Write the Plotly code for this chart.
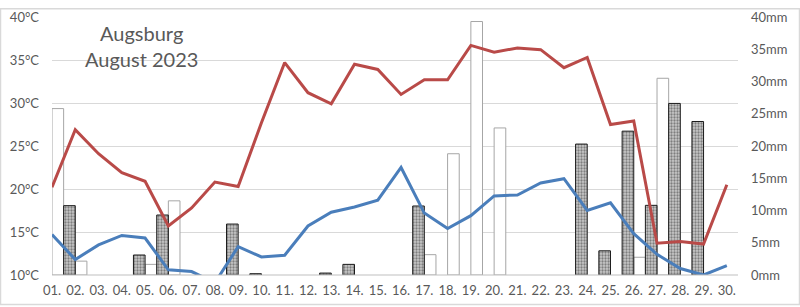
import plotly.graph_objects as go

days = list(range(1, 31))
day_labels = [f"{d:02d}." for d in days]

# daily max / min temperature (°C)
t_max = [20.2, 26.9, 24.1, 21.9, 20.9, 15.7, 17.8, 20.8, 20.3, 27.7,
         34.7, 31.2, 29.9, 34.5, 33.9, 31.0, 32.7, 32.7, 36.7, 35.9,
         36.4, 36.2, 34.1, 35.3, 27.5, 27.9, 13.7, 13.9, 13.6, 20.5]
t_min = [14.7, 11.8, 13.5, 14.6, 14.3, 10.6, 10.4, 9.1, 13.3, 12.1,
         12.3, 15.7, 17.3, 17.9, 18.7, 22.5, 17.2, 15.4, 16.9, 19.2,
         19.3, 20.7, 21.2, 17.5, 18.4, 14.8, 12.4, 10.75, 10.0, 11.1]
# precipitation (mm), two series
rain_dark = [0, 10.75, 0, 0, 3.1, 9.3, 0, 0, 7.9, 0.2,
             0, 0, 0.3, 1.65, 0, 0, 10.7, 0, 0, 0,
             0, 0, 0, 20.3, 3.75, 22.3, 10.8, 26.6, 23.8, 0]
rain_light = [25.8, 2.15, 0, 0, 1.65, 11.5, 0, 0, 0, 0,
              0, 0, 0, 0, 0, 0, 3.15, 18.8, 39.3, 22.8,
              0, 0, 0, 0, 0, 2.75, 30.5, 0, 0, 0]

temp_ticks = [10, 15, 20, 25, 30, 35, 40]
rain_ticks = [0, 5, 10, 15, 20, 25, 30, 35, 40]

font_fam = "Lato, 'Open Sans', sans-serif"
grey = "#595959"


def nz(vals):
    return [v if v > 0 else None for v in vals]


fig = go.Figure()
fig.add_trace(go.Bar(x=days, y=nz(rain_light), width=0.5, offset=0, yaxis="y",
                     marker=dict(color="white", line=dict(color="#a6a6a6", width=1)),
                     showlegend=False))
fig.add_trace(go.Bar(x=days, y=nz(rain_dark), width=0.5, offset=-0.5, yaxis="y",
                     marker=dict(color="#c8c8c8",
                                 line=dict(color="#1a1a1a", width=1),
                                 pattern=dict(shape=".", fgcolor="#333333", size=3, solidity=0.45)),
                     showlegend=False))
fig.add_trace(go.Scatter(x=days, y=t_max, mode="lines", yaxis="y2",
                         line=dict(color="#b94a48", width=3), showlegend=False))
fig.add_trace(go.Scatter(x=days, y=t_min, mode="lines", yaxis="y2",
                         line=dict(color="#4a7ebb", width=3), showlegend=False))

fig.update_layout(
    width=800, height=307,
    margin=dict(l=52, r=62, t=9, b=31),
    paper_bgcolor="white", plot_bgcolor="white",
    barmode="overlay",
    font=dict(family=font_fam, color=grey, size=13),
    xaxis=dict(range=[1, 30.48], tickmode="array", tickvals=days, ticktext=day_labels,
               showgrid=False, zeroline=False, showline=False, ticks="",
               tickfont=dict(size=13, color=grey), ticklabelstandoff=6),
    yaxis=dict(range=[0, 40], side="right", tickmode="array", tickvals=rain_ticks,
               ticktext=[f"{v}mm" for v in rain_ticks], showgrid=False, zeroline=False,
               showline=False, ticks="", tickfont=dict(size=13, color=grey),
               ticklabelstandoff=12),
    yaxis2=dict(range=[10, 40], side="left", overlaying="y", tickmode="array",
                tickvals=temp_ticks, ticktext=[f"{v}°C" for v in temp_ticks],
                showgrid=True, gridcolor="#d9d9d9", gridwidth=1, zeroline=False,
                showline=False, ticks="", tickfont=dict(size=13, color=grey),
                ticklabelstandoff=12),
    shapes=[
        dict(type="line", xref="paper", yref="paper", x0=0, x1=1, y0=0, y1=0,
             line=dict(color="#bfbfbf", width=1)),
        dict(type="rect", xref="paper", yref="paper",
             x0=(0.5 - 52) / 686, x1=(799.5 - 52) / 686,
             y0=(276 - 306.5) / 267, y1=(276 - 0.5) / 267,
             line=dict(color="#d9d9d9", width=1.5), layer="below"),
    ],
    annotations=[
        dict(text="Augsburg<br>August 2023", xref="paper", yref="paper",
             x=(141 - 52) / 686, y=(276 - 39) / 267, xanchor="center", yanchor="middle",
             showarrow=False, align="center",
             font=dict(size=20, color=grey, family=font_fam)),
    ],
)

fig.write_html("out.html")
